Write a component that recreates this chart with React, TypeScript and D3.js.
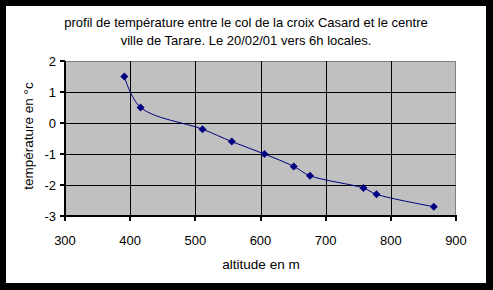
import React from "react";
import * as d3 from "d3";

const altitudes = [391, 416, 511, 556, 606, 651, 676, 758, 778, 866];
const temperatures = [1.5, 0.5, -0.2, -0.6, -1.0, -1.4, -1.7, -2.1, -2.3, -2.7];
const xTicks = [300, 400, 500, 600, 700, 800, 900];
const yTicks = [2, 1, 0, -1, -2, -3];
const titleLines = [
  "profil de température entre le col de la croix Casard et le centre",
  "ville de Tarare. Le 20/02/01 vers 6h locales.",
];

const W = 493, H = 290;
const L = 65, R = 456, T = 61, B = 216;
const font = "'Liberation Sans', Arial, sans-serif";

export default function App() {
  const x = d3.scaleLinear().domain([300, 900]).range([L, R]);
  const y = d3.scaleLinear().domain([-3, 2]).range([B, T]);
  const pts: [number, number][] = altitudes.map((a, i) => [x(a), y(temperatures[i])]);
  const line = d3.line().curve(d3.curveCatmullRom.alpha(0.5))(pts) || "";
  return (
    <svg width={W} height={H} style={{ position: "absolute", left: 0, top: 0, display: "block" }}>
      <rect x={0} y={0} width={W} height={H} fill="#000" />
      <rect x={6} y={6} width={480} height={277} fill="#fff" />
      {titleLines.map((t, i) => (
        <text key={i} x={246} y={27 + i * 18} textAnchor="middle" fontFamily={font} fontSize={13} fill="#000">{t}</text>
      ))}
      <rect x={L} y={T} width={R - L} height={B - T} fill="#c0c0c0" />
      <line x1={L} x2={R} y1={T + 0.5} y2={T + 0.5} stroke="#808080" />
      <line x1={R - 0.5} x2={R - 0.5} y1={T} y2={B} stroke="#808080" />
      {yTicks.filter(v => v !== -3 && v !== 2).map(v => (
        <line key={"gy" + v} x1={L} x2={R} y1={Math.round(y(v)) + 0.5} y2={Math.round(y(v)) + 0.5} stroke="#000" />
      ))}
      {xTicks.filter(v => v !== 300 && v !== 900).map(v => (
        <line key={"gx" + v} x1={Math.round(x(v)) + 0.5} x2={Math.round(x(v)) + 0.5} y1={T} y2={B} stroke="#000" />
      ))}
      <line x1={L} x2={L} y1={T} y2={B + 1} stroke="#000" strokeWidth={2} />
      <line x1={L - 1} x2={R + 1} y1={B} y2={B} stroke="#000" strokeWidth={2} />
      {yTicks.map(v => (
        <g key={"ty" + v}>
          <line x1={L - 5} x2={L} y1={Math.round(y(v))} y2={Math.round(y(v))} stroke="#000" strokeWidth={2} />
          <text x={L - 9} y={y(v) + 5} textAnchor="end" fontFamily={font} fontSize={13} fill="#000">{v}</text>
        </g>
      ))}
      {xTicks.map(v => (
        <g key={"tx" + v}>
          <line x1={Math.round(x(v))} x2={Math.round(x(v))} y1={B} y2={B + 5} stroke="#000" strokeWidth={2} />
          <text x={x(v)} y={245} textAnchor="middle" fontFamily={font} fontSize={13} fill="#000">{v}</text>
        </g>
      ))}
      <text x={261} y={269} textAnchor="middle" fontFamily={font} fontSize={13.5} fill="#000">altitude en m</text>
      <text transform={`translate(33,136) rotate(-90)`} textAnchor="middle" fontFamily={font} fontSize={13.5} fill="#000">température en °c</text>
      <path d={line} fill="none" stroke="#000080" strokeWidth={1} />
      {pts.map((p, i) => (
        <path key={i} d={`M${p[0]},${p[1] - 4}L${p[0] + 4},${p[1]}L${p[0]},${p[1] + 4}L${p[0] - 4},${p[1]}Z`} fill="#000080" />
      ))}
    </svg>
  );
}
